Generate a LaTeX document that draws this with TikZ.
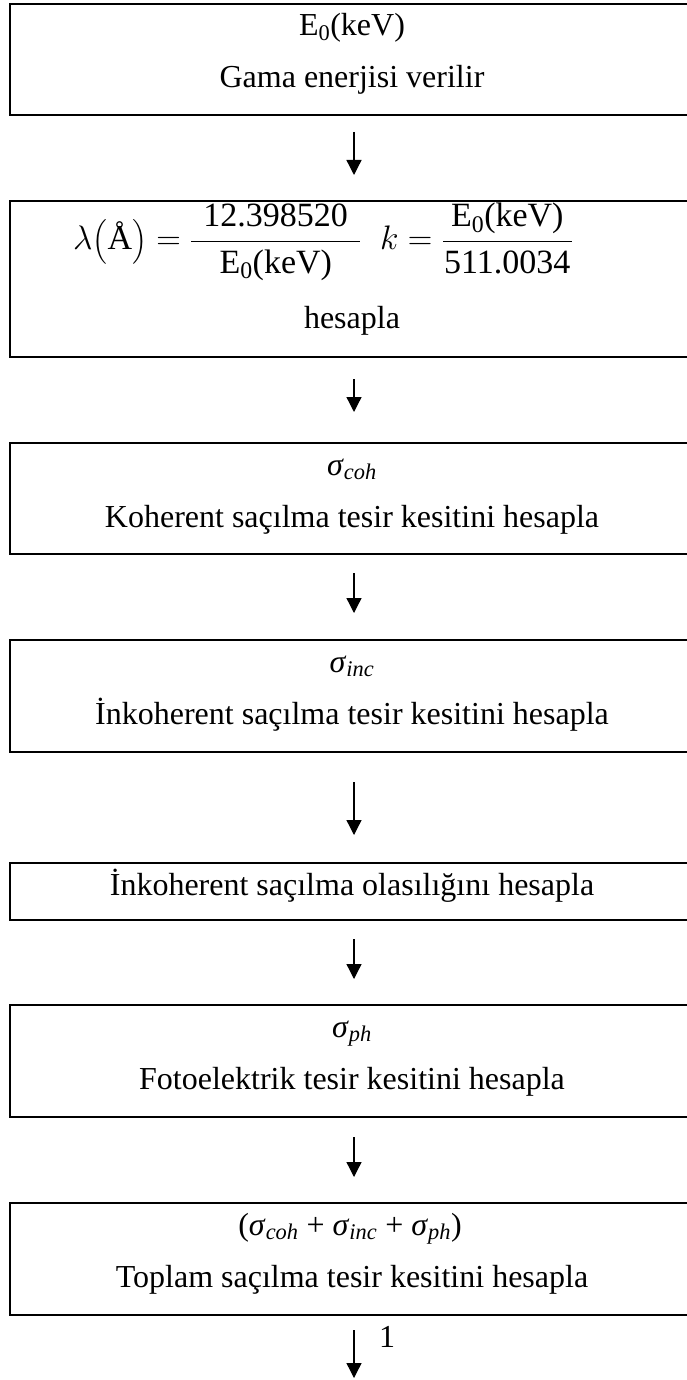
\RequirePackage{fix-cm}
\documentclass[tikz,border=0pt]{standalone}
\usepackage{amsmath}
\usepackage{fontspec}
\setmainfont{Liberation Serif}
\usetikzlibrary{arrows.meta}
\begin{document}
\begin{tikzpicture}[x=1pt,y=-1pt,
  box/.style={draw, line width=2pt, minimum width=684pt, inner sep=0pt, anchor=north},
  txt/.style={font=\fontsize{32}{38}\selectfont, inner sep=0pt, anchor=base},
  fml/.style={font=\fontsize{34}{40}\selectfont, inner sep=0pt, anchor=base},
  arr/.style={line width=1.3pt, -{Triangle[width=15pt,length=15pt]}}]
\fill[white] (0,0) rectangle (687,1380);
\useasboundingbox (0,0) rectangle (687,1380);
% boxes
\node[box, minimum height=111pt] (b1) at (352,3) {};
\node[box, minimum height=156pt] (b2) at (352,200) {};
\node[box, minimum height=111pt] (b3) at (352,442) {};
\node[box, minimum height=112pt] (b4) at (352,639) {};
\node[box, minimum height=57pt]  (b5) at (352,862) {};
\node[box, minimum height=112pt] (b6) at (352,1004) {};
\node[box, minimum height=112pt] (b7) at (352,1202) {};
% texts
\node[txt] (t1a) at (352,36) {E\textsubscript{0}(keV)};
\node[txt] (t1b) at (352,88) {Gama enerjisi verilir};
\node[fml] (f2) at (323,250) {$\lambda\bigl(\text{Å}\bigr) = \dfrac{\hspace{12pt}\text{12.398520}\hspace{12pt}}{\text{E}_{\text{0}}\text{(keV)}}\;\; k = \dfrac{\hspace{8pt}\text{E}_{\text{0}}\text{(keV)}\hspace{8pt}}{\text{511.0034}}$};
\node[txt] (t2) at (352,328) {hesapla};
\node[txt] (t3a) at (352,475) {\textit{σ}\textsubscript{\textit{coh}}};
\node[txt] (t3b) at (352,527) {Koherent saçılma tesir kesitini hesapla};
\node[txt] (t4a) at (352,672) {\textit{σ}\textsubscript{\textit{inc}}};
\node[txt] (t4b) at (352,724) {İnkoherent saçılma tesir kesitini hesapla};
\node[txt] (t5) at (352,895) {İnkoherent saçılma olasılığını hesapla};
\node[txt] (t6a) at (352,1037) {\textit{σ}\textsubscript{\textit{ph}}};
\node[txt] (t6b) at (352,1089) {Fotoelektrik tesir kesitini hesapla};
\node[txt] (t7a) at (350,1235) {(\textit{σ}\textsubscript{\textit{coh}} + \textit{σ}\textsubscript{\textit{inc}} + \textit{σ}\textsubscript{\textit{ph}})};
\node[txt] (t7b) at (352,1287) {Toplam saçılma tesir kesitini hesapla};
\node[txt] (one) at (387,1347) {1};
% arrows
\coordinate (end7) at (354,1378);
\draw[arr] ([xshift=2pt,yshift=-16pt]b1.south) -- ([xshift=2pt,yshift=25pt]b2.north);
\draw[arr] ([xshift=2pt,yshift=-21pt]b2.south) -- ([xshift=2pt,yshift=30pt]b3.north);
\draw[arr] ([xshift=2pt,yshift=-18pt]b3.south) -- ([xshift=2pt,yshift=26pt]b4.north);
\draw[arr] ([xshift=2pt,yshift=-29pt]b4.south) -- ([xshift=2pt,yshift=27pt]b5.north);
\draw[arr] ([xshift=2pt,yshift=-18pt]b5.south) -- ([xshift=2pt,yshift=25pt]b6.north);
\draw[arr] ([xshift=2pt,yshift=-19pt]b6.south) -- ([xshift=2pt,yshift=25pt]b7.north);
\draw[arr] ([xshift=2pt,yshift=-14pt]b7.south) -- (end7);
\end{tikzpicture}
\end{document}
